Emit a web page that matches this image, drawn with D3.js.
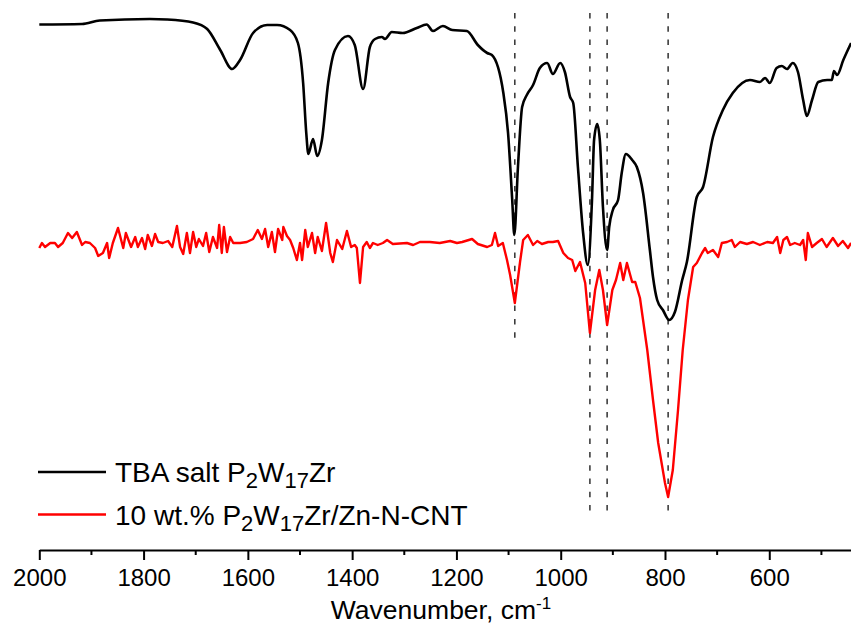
<!DOCTYPE html>
<html>
<head>
<meta charset="utf-8">
<script src="https://cdn.jsdelivr.net/npm/d3@7"></script>
<style>
  body { margin: 0; background: #fff; }
  svg { display: block; font-family: "Liberation Sans", Arial, sans-serif; }
</style>
</head>
<body>
<div id="chart"></div>
<script>
// Datos: número de onda (cm-1) y transmitancia relativa (u.a.)
const tbaWave = [2000, 1918, 1884, 1788, 1755, 1705, 1678, 1653, 1630, 1615, 1590, 1563, 1544, 1519, 1504, 1494, 1488, 1484, 1475, 1467, 1458, 1446, 1433, 1408, 1395, 1379, 1366, 1356, 1343, 1337, 1324, 1303, 1276, 1257, 1245, 1226, 1208, 1180, 1159, 1141, 1132, 1110, 1101, 1093, 1089, 1082, 1074, 1065, 1053, 1040, 1026, 1015, 1001, 992, 982, 976, 967, 957, 948, 940, 936, 930, 925, 919, 911, 907, 900, 890, 883, 875, 863, 854, 842, 829, 823, 815, 804, 792, 781, 767, 758, 739, 727, 708, 689, 670, 637, 618, 608, 599, 586, 576, 566, 555, 545, 535, 528, 518, 506, 489, 480, 476, 470, 458, 443];
const tbaValue = [105.1, 105.2, 105.9, 106.2, 106.1, 105.5, 104.2, 100, 96.2, 98, 103.4, 105, 105, 104, 101.4, 93.4, 83.4, 79.2, 82.2, 78.8, 82, 93.4, 100, 102.8, 101, 92.2, 100.6, 102.2, 102.6, 102.2, 103.6, 103.4, 104.4, 105.1, 103.8, 104.8, 104, 103.8, 101, 99.4, 99, 91.4, 83.4, 70, 63, 76.6, 88.6, 91, 93, 96.4, 97.4, 95.2, 97.4, 95.6, 90.6, 89.4, 76.6, 63.4, 57, 70, 82, 85.2, 82, 68.6, 60, 64.6, 68, 70, 75.4, 79.2, 78, 76.6, 71.4, 60, 54.6, 50, 48, 46, 47.6, 54, 57.6, 70.6, 72.6, 82.6, 88, 91.4, 94, 93.6, 94.4, 93.4, 96.4, 96.8, 96.2, 97.4, 95.6, 90, 86.8, 90, 93.6, 94, 94, 95.8, 95, 98, 101.4];

const cntWave = [2000, 1995, 1989, 1979, 1970, 1964, 1955, 1945, 1937, 1928, 1918, 1912, 1903, 1893, 1887, 1878, 1870, 1866, 1859, 1849, 1839, 1834, 1824, 1816, 1811, 1803, 1797, 1792, 1784, 1778, 1772, 1763, 1753, 1745, 1736, 1730, 1724, 1717, 1711, 1705, 1699, 1694, 1686, 1680, 1674, 1667, 1659, 1655, 1650, 1646, 1640, 1634, 1628, 1615, 1602, 1590, 1581, 1573, 1567, 1561, 1554, 1548, 1542, 1534, 1532, 1525, 1519, 1513, 1506, 1500, 1496, 1490, 1485, 1477, 1471, 1466, 1458, 1450, 1442, 1437, 1429, 1419, 1410, 1402, 1395, 1391, 1385, 1379, 1372, 1366, 1360, 1351, 1341, 1333, 1322, 1295, 1283, 1270, 1251, 1232, 1212, 1199, 1189, 1170, 1159, 1141, 1132, 1126, 1120, 1111, 1103, 1097, 1088, 1078, 1072, 1063, 1053, 1045, 1036, 1024, 1015, 1005, 995, 986, 978, 972, 963, 953, 944, 934, 926, 919, 911, 901, 894, 886, 880, 873, 863, 857, 848, 834, 823, 813, 800, 794, 785, 775, 766, 756, 746, 739, 729, 723, 718, 708, 698, 691, 681, 672, 666, 656, 643, 631, 618, 604, 593, 585, 579, 573, 566, 560, 551, 541, 535, 530, 526, 518, 509, 499, 490, 478, 468, 459, 449, 443];
const cntValue = [60.4, 61.4, 60.6, 61.4, 61.4, 60.6, 61.4, 63.4, 62.4, 63.6, 61, 61.6, 61.4, 60.4, 58.8, 59.4, 61.4, 58.4, 61.4, 64.4, 60.4, 63.4, 60.6, 62.6, 60.6, 62.4, 60.2, 63, 60.8, 63.2, 61.6, 61.4, 61.8, 60.6, 64.8, 60.6, 59.2, 63.4, 59.4, 63.6, 60.6, 62.2, 60.8, 63.4, 59.6, 62.6, 60.4, 65, 59.4, 64.6, 59.6, 62.6, 61.4, 61.4, 61.6, 62.2, 64, 62.2, 64.2, 60.6, 63.6, 59.6, 64.2, 62, 64.6, 62.8, 62, 60.4, 58, 61.4, 58, 64, 60.6, 63.4, 59.4, 62.6, 59.8, 65.4, 59.4, 57.6, 62, 60.2, 63.8, 60.6, 61, 60.4, 53.4, 60.6, 61.6, 60.4, 61.4, 61, 61.4, 62, 61.2, 61.4, 61, 61.6, 61.6, 61.4, 61.8, 61.4, 61.6, 62.2, 61.2, 60.6, 61, 63.4, 60.8, 61.4, 58, 55, 49.4, 57.6, 62, 63, 61, 61.8, 61.2, 61.6, 61.6, 61.8, 59.4, 58.4, 58, 55.8, 57.6, 53.4, 43.4, 52, 56, 52, 45, 52, 54, 57.4, 54, 57.4, 53.6, 53.6, 50.4, 40, 30, 21.4, 13.4, 10.6, 16, 28, 40, 50, 56.6, 57.4, 59.4, 60.4, 59.4, 60, 58.6, 61.4, 61.6, 62, 60.6, 61.6, 61.2, 61.6, 61, 61.6, 61.4, 62.6, 59.4, 62, 62.6, 61, 61.4, 61, 62, 58, 63.4, 60.6, 61.4, 62.2, 60.6, 62.4, 60.8, 61.8, 60.4, 61.4];

// Líneas discontinuas de los picos: número de onda, valor superior e inferior
const peakWave = [1088, 944, 911, 794];
const peakTop = [107.4, 107.4, 107.4, 107.4];
const peakBottom = [42.2, 7.4, 7.4, 7.4];

const majorTicks = [2000, 1800, 1600, 1400, 1200, 1000, 800, 600];
const minorTicks = [1900, 1700, 1500, 1300, 1100, 900, 700, 500];

const width = 851;
const height = 632;

const svg = d3
  .select("div#chart")
  .append("svg")
  .attr("width", width)
  .attr("height", height);

// Escalas
const x = d3.scaleLinear().domain([2000, 440]).range([39.3, 852.7]);
const y = d3.scaleLinear().domain([0, 110]).range([550, 0]);

// Líneas de referencia
svg
  .append("g")
  .selectAll("line")
  .data(peakWave)
  .join("line")
  .attr("x1", (d) => x(d))
  .attr("x2", (d) => x(d))
  .attr("y1", (d, i) => y(peakTop[i]))
  .attr("y2", (d, i) => y(peakBottom[i]))
  .attr("stroke", "#222")
  .attr("stroke-width", 1.4)
  .attr("stroke-dasharray", "5.5,7.8");

// Curvas
const tbaData = tbaWave.map((w, i) => ({ w, v: tbaValue[i] }));
const cntData = cntWave.map((w, i) => ({ w, v: cntValue[i] }));

svg
  .append("path")
  .datum(cntData)
  .attr("fill", "none")
  .attr("stroke", "#ff0000")
  .attr("stroke-width", 2.4)
  .attr("stroke-linejoin", "round")
  .attr("d", d3.line().x((d) => x(d.w)).y((d) => y(d.v)));

svg
  .append("path")
  .datum(tbaData)
  .attr("fill", "none")
  .attr("stroke", "#000")
  .attr("stroke-width", 2.6)
  .attr("stroke-linejoin", "round")
  .attr("d", d3.line().curve(d3.curveMonotoneX).x((d) => x(d.w)).y((d) => y(d.v)));

// Eje X
const xAxisGroup = svg.append("g").attr("transform", `translate(0, ${y(0)})`);
xAxisGroup.call(
  d3
    .axisBottom(x)
    .tickValues(majorTicks)
    .tickFormat(d3.format("d"))
    .tickSize(10)
    .tickSizeOuter(0)
    .tickPadding(9)
);
xAxisGroup
  .append("g")
  .selectAll("line")
  .data(minorTicks)
  .join("line")
  .attr("x1", (d) => x(d))
  .attr("x2", (d) => x(d))
  .attr("y1", 0)
  .attr("y2", 5)
  .attr("stroke", "#000")
  .attr("stroke-width", 2);
xAxisGroup.select(".domain").attr("stroke-width", 2);
xAxisGroup.selectAll(".tick line").attr("stroke-width", 2);
xAxisGroup
  .selectAll(".tick text")
  .attr("font-size", 24)
  .attr("font-family", "Liberation Sans, Arial, sans-serif")
  .attr("fill", "#000");

// Título del eje
const title = svg
  .append("text")
  .attr("x", 441)
  .attr("y", 619)
  .attr("text-anchor", "middle")
  .attr("font-size", 26.5)
  .text("Wavenumber, cm");
title.append("tspan").attr("dy", -10).attr("font-size", 17).text("-1");

// Leyenda
const legendItems = [
  { color: "#000", parts: ["TBA salt P", "2", "W", "17", "Zr"] },
  { color: "#ff0000", parts: ["10 wt.% P", "2", "W", "17", "Zr/Zn-N-CNT"] },
];
const legend = svg.append("g");
legendItems.forEach((item, i) => {
  const ly = 472 + i * 42.5;
  legend
    .append("line")
    .attr("x1", 38)
    .attr("x2", 106)
    .attr("y1", ly)
    .attr("y2", ly)
    .attr("stroke", item.color)
    .attr("stroke-width", 2.4);
  const t = legend
    .append("text")
    .attr("x", 115)
    .attr("y", ly + 10)
    .attr("font-size", 28)
    .attr("fill", "#000");
  item.parts.forEach((p, j) => {
    const sub = j % 2 === 1;
    const ts = t.append("tspan").text(p);
    if (sub) ts.attr("font-size", 22).attr("dy", 6);
    else if (j > 0) ts.attr("dy", -6);
  });
});
</script>
</body>
</html>
